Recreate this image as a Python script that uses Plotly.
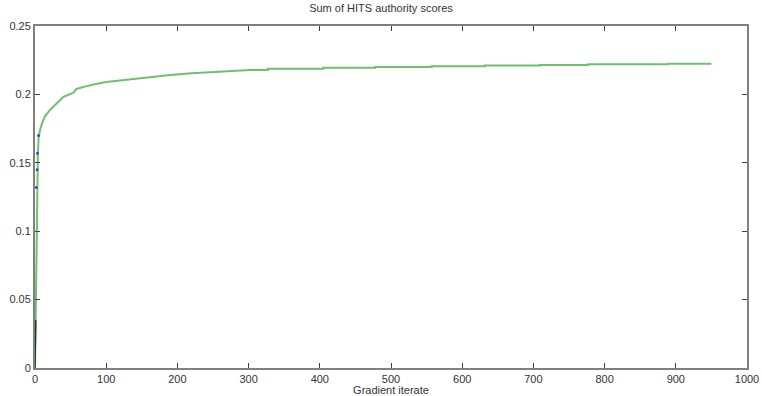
import plotly.graph_objects as go

# Data
# early (smooth) part of the curve
early_iters = [0, 1, 2, 3, 4, 5, 7, 10, 14, 21, 30, 40, 54, 58, 70, 82, 100, 133, 160, 190, 220, 255, 302]
early_scores = [0.0, 0.035, 0.10, 0.135, 0.155, 0.168, 0.174, 0.179, 0.184, 0.1886, 0.193, 0.1983, 0.2013, 0.204, 0.2057, 0.2073, 0.209, 0.211, 0.2127, 0.2142, 0.2155, 0.2166, 0.2178]
# late (step-like) part of the curve
late_iters = [302, 327, 405, 478, 557, 632, 709, 777, 889, 950]
late_scores = [0.2178, 0.2188, 0.2195, 0.2200, 0.2205, 0.2212, 0.2215, 0.2220, 0.2224, 0.2224]

start_iters = [0, 1]
start_scores = [0.0, 0.035]

dot_iters = [2, 3, 3.5, 5]
dot_scores = [0.132, 0.145, 0.157, 0.17]

x_ticks = [0, 100, 200, 300, 400, 500, 600, 700, 800, 900, 1000]
y_ticks = [0, 0.05, 0.1, 0.15, 0.2, 0.25]
y_labels = ["0", "0.05", "0.1", "0.15", "0.2", "0.25"]

green = "#6cc26c"
fig = go.Figure()
fig.add_trace(go.Scatter(x=early_iters, y=early_scores, mode="lines",
                         line=dict(color=green, width=2), showlegend=False))
fig.add_trace(go.Scatter(x=late_iters, y=late_scores, mode="lines",
                         line=dict(color=green, width=2, shape="hv"), showlegend=False))
fig.add_trace(go.Scatter(x=start_iters, y=start_scores, mode="lines",
                         line=dict(color="#1a3a1a", width=1.5), showlegend=False))
fig.add_trace(go.Scatter(x=dot_iters, y=dot_scores, mode="markers",
                         marker=dict(color="#3050c0", size=3), showlegend=False))

axis_common = dict(showgrid=False, zeroline=False, showline=True, mirror="ticks",
                   linecolor="#808080", linewidth=2, ticks="inside", ticklen=5,
                   tickcolor="#404040", tickwidth=1, automargin=False,
                   tickfont=dict(family="Liberation Sans, Arial", size=11, color="#333333"))

fig.update_layout(
    width=762, height=396,
    margin=dict(l=35, r=15, t=26, b=28),
    paper_bgcolor="white", plot_bgcolor="white",
    title=dict(text="Sum of HITS authority scores", x=0.5, xanchor="center",
               y=0.99, yanchor="top", automargin=False,
               font=dict(family="Liberation Sans, Arial", size=11, color="#333333")),
    xaxis=dict(range=[0, 1000], tickvals=x_ticks, **axis_common,
               title=dict(text="Gradient iterate", standoff=0,
                          font=dict(family="Liberation Sans, Arial", size=11, color="#333333"))),
    yaxis=dict(range=[0, 0.25], tickvals=y_ticks, ticktext=y_labels, **axis_common),
)

fig.write_html("out.html", config={"displayModeBar": False},
               post_script="document.body.style.margin='0';")
